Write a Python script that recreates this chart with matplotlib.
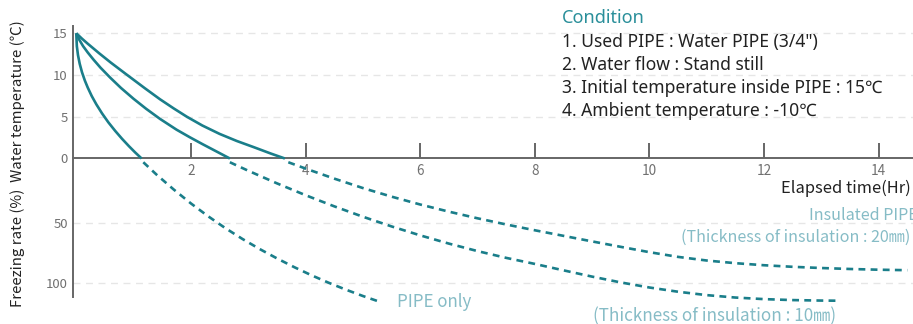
import matplotlib
matplotlib.use("Agg")
import matplotlib.pyplot as plt

plt.rcParams['font.family'] = ['Noto Sans CJK KR', 'DejaVu Sans']

# ---------------- data ----------------
# Water temperature (solid part), hours vs degC
pipe_t = [0, 0.01, 0.03, 0.06, 0.1, 0.15, 0.2, 0.27, 0.35, 0.45, 0.56, 0.68, 0.8, 0.92, 1.03, 1.14]
pipe_T = [15, 13.46, 12.38, 11.35, 10.33, 9.33, 8.5, 7.48, 6.49, 5.4, 4.33, 3.3, 2.35, 1.47, 0.71, 0]

ins10_t = [0, 0.05, 0.12, 0.2, 0.3, 0.42, 0.59, 0.78, 1.0, 1.22, 1.46, 1.75, 1.98, 2.2, 2.45, 2.68]
ins10_T = [15, 14.25, 13.45, 12.7, 11.85, 10.9, 9.7, 8.45, 7.15, 5.95, 4.75, 3.45, 2.55, 1.73, 0.83, 0]

ins20_t = [0, 0.1, 0.2, 0.4, 0.6, 0.85, 1.2, 1.46, 1.7, 1.93, 2.2, 2.5, 2.8, 3.1, 3.4, 3.64]
ins20_T = [15, 14.35, 13.75, 12.6, 11.5, 10.2, 8.4, 7.1, 6.0, 5.0, 3.95, 2.95, 2.1, 1.35, 0.58, 0]

# Freezing rate (dashed part), hours vs %
pipe_ft = [1.17, 1.4, 1.7, 2.0, 2.3, 2.6, 2.9, 3.2, 3.5, 3.8, 4.1, 4.4, 4.7, 5.0, 5.3]
pipe_f = [0, 10.2, 22.5, 34.0, 44.6, 54.4, 63.4, 71.7, 79.4, 86.6, 93.3, 99.5, 105.2, 110.5, 115.4]

ins10_ft = [2.68, 3.0, 3.5, 4.0, 4.5, 5.0, 5.5, 6.0, 6.5, 7.0, 7.5, 8.0, 8.5, 9.0, 9.5,
            10.0, 10.5, 11.0, 11.5, 12.0, 12.5, 13.0, 13.27]
ins10_f = [0, 7.0, 17.4, 27.2, 36.4, 45.0, 53.0, 60.4, 67.2, 73.4, 79.0, 84.0, 89.3, 94.5, 99.3,
           103.5, 107.0, 109.8, 111.8, 113.1, 113.9, 114.3, 114.4]

ins20_ft = [3.7, 4.0, 4.5, 5.0, 5.5, 6.0, 6.5, 7.0, 7.5, 8.0, 8.5, 9.0, 9.5, 10.0, 10.5,
            11.0, 11.5, 12.0, 12.5, 13.0, 13.5, 14.0, 14.5]
ins20_f = [0, 5.2, 13.5, 21.3, 28.4, 34.9, 40.8, 46.3, 51.4, 56.2, 60.8, 65.4, 69.9, 74.3, 78.2,
           81.2, 83.4, 85.1, 86.4, 87.4, 88.2, 88.8, 89.2]

x_ticks = [2, 4, 6, 8, 10, 12, 14]
temp_ticks = [0, 5, 10, 15]
freeze_ticks = [50, 100]

conditions = [
    '1. Used PIPE : Water PIPE (3/4")',
    '2. Water flow : Stand still',
    '3. Initial temperature inside PIPE : 15℃',
    '4. Ambient temperature : -10℃',
]

# ---------------- style ----------------
LINE = '#1a7e8a'
LABEL = '#86bcc6'
AXIS = '#666666'
TICKTXT = '#707070'
GRID = '#e6e6e6'
COND_FONT = ['Noto Sans', 'Noto Sans CJK KR', 'DejaVu Sans']

W, H = 913, 324
fig = plt.figure(figsize=(W / 100, H / 100), dpi=100)

left = 73.4 / W
y_axis_line = 158.5
top_px = 26
bot_px = 296.7

ax_top = fig.add_axes([left, (H - y_axis_line) / H, 1 - left, (y_axis_line - top_px) / H])
ax_bot = fig.add_axes([left, (H - bot_px) / H, 1 - left, (bot_px - y_axis_line) / H])

for ax in (ax_top, ax_bot):
    ax.set_xlim(-0.05, 14.6)
    ax.set_facecolor('none')
    for s in ('top', 'right'):
        ax.spines[s].set_visible(False)
    ax.spines['left'].set_color(AXIS)
    ax.spines['left'].set_linewidth(1.4)
    ax.tick_params(axis='y', length=0, labelsize=9.5, labelcolor=TICKTXT, pad=4)

ax_top.set_ylim(0, 15.87)
ax_bot.set_ylim(111.1, -3.1)

# top axes: x axis line with upward ticks, labels below
ax_top.spines['bottom'].set_color(AXIS)
ax_top.spines['bottom'].set_linewidth(1.4)
ax_top.set_xticks(x_ticks)
ax_top.set_xticklabels([str(v) for v in x_ticks])
ax_top.tick_params(axis='x', direction='in', length=11, width=1.4, color=AXIS,
                   labelsize=9.8, labelcolor=TICKTXT, pad=4)
ax_top.set_yticks(temp_ticks)
ax_top.set_yticklabels([str(v) for v in temp_ticks])

ax_bot.spines['bottom'].set_visible(False)
ax_bot.set_xticks([])
ax_bot.set_yticks(freeze_ticks)
ax_bot.set_yticklabels([str(v) for v in freeze_ticks])

# grid lines
for v in temp_ticks[1:]:
    ax_top.axhline(v, color=GRID, lw=1, ls=(0, (5, 4)), zorder=0)
for v in freeze_ticks:
    ax_bot.axhline(v, color=GRID, lw=1, ls=(0, (5, 4)), zorder=0)

# curves
for t, T in ((pipe_t, pipe_T), (ins10_t, ins10_T), (ins20_t, ins20_T)):
    ax_top.plot(t, T, color=LINE, lw=1.9, solid_capstyle='butt', solid_joinstyle='round',
                clip_on=False, zorder=3)
for t, f in ((pipe_ft, pipe_f), (ins10_ft, ins10_f), (ins20_ft, ins20_f)):
    ax_bot.plot(t, f, color=LINE, lw=1.9, ls=(0, (2.6, 2.0)), dash_capstyle='butt',
                clip_on=False, zorder=3)

# texts
fig.text(18 / W, 1 - 164 / H, 'Freezing rate (%)  Water temperature (℃)', rotation=90,
         ha='center', va='center', fontsize=10.8, color='#222222')

fig.text(781 / W, 1 - 188 / H, 'Elapsed time(Hr)', ha='left', va='center',
         fontsize=11.9, color='#222222')

fig.text(562 / W, 1 - 18 / H, 'Condition', ha='left', va='center',
         fontsize=13.0, color='#2a8f9a', family=COND_FONT)
for i, line in enumerate(conditions):
    fig.text(562 / W, 1 - (42 + 23 * i) / H, line, ha='left', va='center',
             fontsize=12.6, color='#222222', family=COND_FONT)

fig.text(809 / W, 1 - 215 / H, 'Insulated PIPE', ha='left', va='center',
         fontsize=11.6, color=LABEL)
fig.text(681 / W, 1 - 237 / H, '(Thickness of insulation : 20㎜)', ha='left', va='center',
         fontsize=11.6, color=LABEL)
fig.text(397 / W, 1 - 302 / H, 'PIPE only', ha='left', va='center',
         fontsize=12.2, color=LABEL)
fig.text(593 / W, 1 - 316 / H, '(Thickness of insulation : 10㎜)', ha='left', va='center',
         fontsize=12.3, color=LABEL)

fig.savefig('out.png', dpi=100)
